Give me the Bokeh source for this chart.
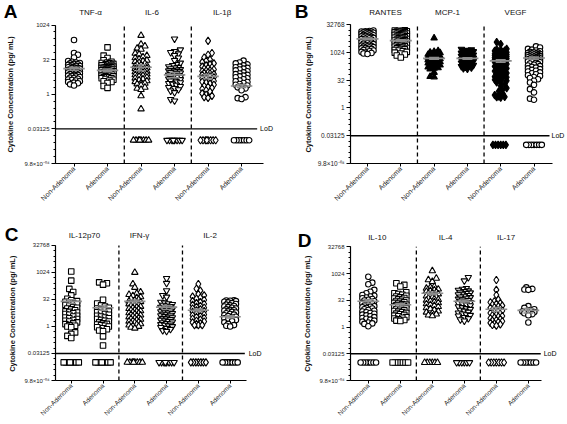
import numpy as np
from math import pi
from bokeh.plotting import figure
from bokeh.layouts import gridplot
from bokeh.models import FixedTicker, Label, Range1d, LogAxis
from bokeh.embed import file_html
from bokeh.resources import INLINE

# ---------------- data (pg/mL) ----------------
groups_x = ["Non-Adenoma", "Adenoma", "Non-Adenoma", "Adenoma", "Non-Adenoma", "Adenoma"]
LOD = 0.03125
BLQ_PLOT = 0.01   # value at which samples below LoD are shown
y_tick_labels = {-10: "9.8\u00d710\u207b\u2070\u2074", -5: "0.03125", 0: "1", 5: "32", 10: "1024", 15: "32768"}
y_title = "Cytokine Concentration (pg/ mL)"

# Panel A
a_titles = ["TNF-\u03b1", "IL-6", "IL-1\u03b2"]
tnf_non = [230, 62, 52, 40, 28, 26, 24, 23, 22, 21, 20, 19, 18, 17, 17, 16, 15, 15, 14, 14, 13, 13, 12, 12, 11.5, 11, 11, 10.5, 10, 10, 9.5, 9, 9, 8.5, 8, 8, 7.5, 7, 7, 6.5, 6.2, 6, 5.6, 5.3, 5, 4.7, 4.4, 4.2, 4, 3.7, 3.4, 3.2, 3, 2.7, 2.4]
tnf_ad = [110, 48, 38, 30, 26, 24, 23, 22, 21, 20, 19, 18, 18, 17, 16, 16, 15, 15, 14, 14, 13, 13, 12.5, 12, 12, 11.5, 11, 11, 10.5, 10, 10, 9.5, 9, 9, 8.5, 8.5, 8, 8, 7.5, 7, 7, 6.5, 6.5, 6, 6, 5.5, 5.5, 5, 5, 4.6, 4.3, 4, 3.7, 3.4, 3.1, 2.3, 1.9]
il6_non = [360, 150, 125, 100, 90, 60, 55, 48, 42, 38, 34, 30, 28, 26, 24, 22, 20, 19, 18, 17, 16, 15, 14, 13, 12, 11, 10, 9.5, 9, 8, 7.5, 7, 6.5, 6, 5.5, 5, 4.6, 4.2, 3.8, 3.5, 3.2, 3, 2.8, 2.5, 2, 1.8, 1.6, 0.85, 0.23]
il6_ad = [256, 86, 73, 66, 58, 49, 38, 30, 23, 20, 18, 16, 15, 14, 13, 12, 11.5, 11, 10.5, 10, 9.5, 9, 8.5, 8, 7.5, 7, 6.8, 6.5, 6, 5.7, 5.4, 5, 4.7, 4.4, 4.1, 3.8, 3.5, 3.2, 3, 2.8, 2.5, 2.2, 2, 1.8, 1.6, 1.4, 1.2, 0.6, 0.52]
il1b_non = [210, 62, 52, 40, 32, 28, 25, 22, 20, 18, 16, 15, 14, 13, 12, 11, 10.5, 10, 9.5, 9, 8.5, 8, 7.5, 7, 6.5, 6, 5.5, 5, 4.6, 4.2, 3.8, 3.5, 3.2, 2.9, 2.6, 2.3, 2.1, 1.9, 1.7, 1.5, 1.3, 1.1, 0.95, 0.85, 0.75, 0.7]
il1b_ad = [29, 24, 22, 20, 18, 16, 15, 14, 13, 12, 11, 10, 9, 8, 7.5, 7, 6.5, 6, 5.5, 5, 4.5, 4, 3.7, 3.4, 3.1, 2.8, 2.6, 2.4, 2.2, 2, 1.8, 1.5, 0.75, 0.68, 0.62]
a_below = [0, 0, 8, 8, 8, 7]
a_means = [13, 11, 15, 7, 6, 2.3]
a_sems = [2, 1.5, 4.5, 1.8, 1.3, 0.35]

# Panel B
b_titles = ["RANTES", "MCP-1", "VEGF"]
rantes_non = [16000, 15000, 14500, 14000, 13500, 13000, 12500, 12000, 11500, 11000, 10500, 10000, 9600, 9200, 8800, 8400, 8000, 7600, 7200, 6900, 6600, 6300, 6000, 5700, 5400, 5100, 4800, 4500, 4300, 4100, 3900, 3700, 3500, 3300, 3100, 2900, 2700, 2500, 2400, 2300, 2200, 2100, 2000, 1900, 1800, 1700, 1600, 1500, 1400, 1300, 1200, 1100, 1000, 950, 900, 850]
rantes_ad = [16500, 16000, 15500, 15000, 14500, 14000, 13500, 13000, 12500, 12000, 11500, 11000, 10500, 10000, 9500, 9000, 8600, 8200, 7800, 7400, 7000, 6700, 6400, 6100, 5800, 5500, 5200, 5000, 4800, 4600, 4400, 4200, 4000, 3800, 3600, 3400, 3200, 3000, 2850, 2700, 2550, 2400, 2250, 2100, 2000, 1900, 1800, 1700, 1600, 1500, 1400, 1300, 1200, 1100, 1000, 900, 800, 700, 550]
mcp1_non = [6200, 1250, 1150, 1050, 980, 920, 860, 800, 760, 720, 680, 640, 610, 580, 550, 520, 500, 480, 460, 440, 420, 400, 380, 360, 340, 320, 300, 285, 270, 255, 240, 225, 210, 195, 180, 165, 150, 140, 128, 84, 50, 48]
mcp1_ad = [1550, 1450, 1350, 1250, 1150, 1080, 1020, 960, 900, 850, 800, 760, 720, 680, 640, 600, 570, 540, 510, 480, 450, 425, 400, 380, 360, 340, 320, 300, 280, 260, 240, 225, 210, 195, 180, 165, 150, 140, 130]
vegf_non = [3700, 2900, 1600, 1500, 1400, 1300, 1250, 1150, 1100, 1050, 1000, 950, 900, 870, 850, 820, 800, 770, 750, 720, 700, 680, 650, 620, 600, 580, 560, 540, 520, 500, 480, 460, 450, 430, 420, 400, 390, 370, 360, 340, 320, 300, 280, 260, 240, 225, 210, 195, 180, 165, 150, 140, 130, 120, 110, 100, 92, 85, 78, 72, 66, 60, 55, 50, 46, 42, 38, 34, 30, 27, 24, 20, 16, 12, 10, 8, 6, 5, 4.2, 4, 3.8, 3.6]
vegf_ad = [2200, 1900, 1600, 1450, 1300, 1200, 1100, 1050, 1000, 950, 920, 880, 850, 820, 790, 760, 730, 700, 680, 650, 630, 600, 580, 560, 540, 520, 500, 480, 470, 450, 440, 420, 410, 390, 380, 360, 350, 330, 320, 300, 280, 260, 240, 220, 200, 185, 170, 155, 140, 128, 116, 105, 95, 85, 76, 68, 60, 54, 48, 42, 36, 30, 24, 18, 10.5, 7, 3.2, 2.8]
b_below = [0, 0, 0, 0, 6, 7]
b_means = [5600, 4500, 490, 490, 360, 512]
b_sems = [600, 500, 60, 50, 60, 70]

# Panel C
c_titles = ["IL-12p70", "IFN-\u03b3", "IL-2"]
il12_non = [1170, 360, 125, 84, 54, 35, 29, 26, 24, 22, 20, 18, 16, 14, 12, 11, 10, 9, 8, 7, 6.5, 6, 5.5, 5, 4.5, 4, 3.6, 3.2, 2.9, 2.6, 2.3, 2.1, 1.9, 1.7, 1.5, 1.35, 1.2, 1.1, 1.0, 0.9, 0.47, 0.38, 0.3, 0.23]
il12_ad = [290, 256, 215, 31, 19, 15, 13, 11, 10, 9, 8, 7, 6.3, 5.6, 5, 4.5, 4, 3.6, 3.2, 2.9, 2.6, 2.3, 2.1, 1.9, 1.7, 1.5, 1.4, 1.3, 1.2, 1.1, 1.0, 0.9, 0.8, 0.7, 0.6, 0.54, 0.28, 0.088]
ifng_non = [1024, 235, 150, 84, 70, 60, 52, 45, 40, 36, 32, 29, 26, 24, 22, 20, 18, 16.5, 15, 14, 13, 12, 11, 10, 9.3, 8.6, 8, 7.4, 6.8, 6.3, 5.8, 5.4, 5, 4.6, 4.3, 4, 3.7, 3.4, 3.1, 2.9, 2.7, 2.5, 2.3, 2.1, 1.95, 1.8, 1.65, 1.5, 1.4, 1.3, 1.2, 1.1, 1.0, 0.9, 0.8]
ifng_ad = [480, 256, 100, 54, 44, 23, 21, 19, 17, 15.5, 14, 13, 12, 11, 10, 9.3, 8.6, 8, 7.4, 6.8, 6.3, 5.8, 5.4, 5, 4.6, 4.3, 4, 3.7, 3.4, 3.1, 2.9, 2.7, 2.5, 2.3, 2.1, 1.95, 1.8, 1.65, 1.5, 1.4, 1.3, 1.2, 1.1, 1.0, 0.9, 0.8, 0.7, 0.6, 0.54]
il2_non = [235, 128, 100, 64, 54, 46, 40, 35, 30, 26, 23, 20, 18, 16, 14, 12.5, 11, 10, 9, 8, 7.2, 6.5, 5.8, 5.2, 4.7, 4.2, 3.8, 3.4, 3, 2.7, 2.4, 2.1, 1.9, 1.7, 1.5, 1.35, 1.2, 1.2, 1.2]
il2_ad = [29, 28, 27, 26, 24, 22, 20, 18, 16.5, 15, 14, 13, 12, 11, 10, 9, 8.5, 8, 7.5, 7, 6.5, 6, 5.5, 5, 4.6, 4.2, 3.8, 3.5, 3.2, 2.9, 2.6, 2.3, 2, 1.7, 1.4, 1.2, 1.1, 1.0]
c_below = [8, 8, 8, 8, 7, 7]
c_means = [25, 11, 25, 12, 8, 3.5]
c_sems = [6, 3, 5, 3, 1.5, 0.5]

# Panel D
d_titles = ["IL-10", "IL-4", "IL-17"]
il10_non = [670, 315, 256, 124, 97, 80, 64, 58, 52, 46, 42, 38, 34, 31, 28, 26, 24, 22, 20, 18, 16, 15, 14, 13, 12, 11, 10, 9, 8.2, 7.5, 6.8, 6.2, 5.6, 5, 4.5, 4, 3.6, 3.2, 2.9, 2.6, 2.3, 2, 1.8, 1.6, 1.5, 1.1]
il10_ad = [290, 235, 190, 90, 80, 72, 65, 58, 52, 47, 43, 40, 37, 34, 31, 29, 27, 25, 23, 21, 19.5, 18, 17, 16, 15, 14, 13, 12, 11, 10, 9.3, 8.6, 8, 7.4, 6.8, 6.2, 5.7, 5.2, 4.8, 4.4, 4, 3.6, 3.3, 3, 2.7, 2.5, 2.3, 2.2]
il4_non = [1450, 550, 450, 360, 190, 170, 150, 135, 120, 110, 100, 92, 85, 78, 72, 66, 60, 55, 50, 46, 42, 38, 35, 32, 29, 26, 23, 20, 18, 16, 14, 12, 10.5, 9, 7.8, 6.8, 6, 5.3, 4.7, 4.2]
il4_ad = [620, 400, 150, 135, 120, 110, 100, 92, 85, 78, 72, 66, 60, 55, 50, 46, 42, 38, 35, 32, 29, 26, 24, 22, 20, 18, 16, 14, 12.5, 11, 10, 9, 8, 7, 6.2, 5.5, 5, 4.6, 4.2, 3.5, 3, 2.6, 2.2]
il17_non = [440, 124, 64, 35, 28, 25, 22, 20, 18, 16, 14.5, 13, 12, 11, 10, 9, 8.2, 7.5, 6.8, 6.2, 5.6, 5, 4.6, 4.2, 3.8, 3.4, 3.1, 2.8, 2.5, 2.3, 2.1, 1.9, 1.7, 1.55, 1.4, 1.3, 1.2]
il17_ad = [170, 140, 130, 124, 15, 12, 10, 9, 8, 7.5, 7, 6.5, 6, 5.3, 4.6, 1.8]
d_below = [7, 7, 6, 6, 7, 7]
d_means = [28, 18, 80, 28, 10, 8.6]
d_sems = [6, 3, 15, 5, 2.5, 2.5]

# ---------------- layout helpers ----------------
FONT = "Liberation Sans"
TICKLAB_W = 26     # estimated width of the widest y tick label, px
NBSP_W = 0.278 * 7.5


def swarm(ypix, d, wmax):
    order = np.argsort(ypix, kind="stable")
    step = d / 2.0
    pos = [0.0]
    k = 1
    while k * step <= wmax + 1e-9:
        pos += [k * step, -k * step]
        k += 1
    pos = np.array(pos)
    neg_first = pos.copy()
    neg_first[1::2], neg_first[2::2] = pos[2::2], pos[1::2]
    px, py = [], []
    xs = np.zeros(len(ypix))
    for n, i in enumerate(order):
        y = ypix[i]
        cands = pos if n % 2 == 0 else neg_first
        if px:
            ax = np.array(px)
            ay = np.array(py)
            m = np.abs(ay - y) < d
            nx, ny = ax[m], ay[m]
        else:
            nx, ny = np.array([]), np.array([])
        if len(nx) == 0:
            best = 0.0
        else:
            dist = np.sqrt((cands[:, None] - nx[None, :]) ** 2 + (y - ny[None, :]) ** 2).min(axis=1)
            ok = np.where(dist >= d - 1e-9)[0]
            best = cands[ok[0]] if len(ok) else cands[int(np.argmax(dist))]
        xs[i] = best
        px.append(best)
        py.append(y)
    return xs


def make_panel(letter, titles, series, below, means, sems, markers, fills, ytop_exp, g):
    w, h = g["w"], g["h"]
    fl, ty = int(g["left"]), g["top"]
    bb = int(round(h - g["bottom"]))
    by = h - bb
    c1, sp = g["cat1"], g["sp"]
    ppd = (by - ty) / (ytop_exp + 10)

    def X(px):
        return 1 + (px - c1) / sp

    def Y(py):
        return 2.0 ** (ytop_exp + (ty - py) / ppd)

    ymin, ymax = 2.0 ** -10, 2.0 ** ytop_exp
    p = figure(width=w, height=h, output_backend="svg", toolbar_location=None,
               y_axis_type="log", x_range=Range1d(X(fl), X(w)), y_range=Range1d(ymin, Y(0)),
               min_border_left=fl, min_border_right=0, min_border_top=0,
               min_border_bottom=bb)
    p.outline_line_color = None
    p.xgrid.visible = False
    p.ygrid.visible = False
    p.background_fill_color = "white"
    p.border_fill_color = "white"

    # y axis
    ya = p.yaxis[0]
    ya.bounds = (ymin, ymax)
    exps = list(range(-10, ytop_exp + 1, 5))
    ya.ticker = FixedTicker(ticks=[2.0 ** e for e in exps],
                            minor_ticks=[2.0 ** e for e in range(-10, ytop_exp + 1)])
    ya.major_label_overrides = {2.0 ** e: y_tick_labels[e] for e in exps}
    ya.major_label_text_font = FONT
    ya.major_label_text_font_size = g["yfont"]
    ya.major_label_text_color = "#222222"
    ya.major_label_standoff = 2
    ya.major_tick_out = 4
    ya.major_tick_in = 0
    ya.minor_tick_out = 2
    ya.minor_tick_in = 0
    ya.axis_line_width = 1.2
    # the label is centred on the whole frame; trailing no-break spaces move it
    # to the centre of the drawn axis
    ya.axis_label = y_title + "\u00a0" * int(round(ty / NBSP_W))
    ya.axis_label_text_font = FONT
    ya.axis_label_text_font_size = "7.5px"
    ya.axis_label_text_font_style = "bold"
    ya.axis_label_text_color = "#111111"
    s = int(round(fl - 6 - TICKLAB_W - (g["ytitle"] + 4.5)))
    ya.axis_label_standoff = s
    prim = 6 + TICKLAB_W + s + 9

    # panel letter as the tick label of an outer, line-less axis
    ly = Y(g["letter_cy"])
    la = LogAxis(ticker=FixedTicker(ticks=[ly]), major_label_overrides={ly: letter},
                 axis_line_color=None, major_tick_line_color=None, minor_tick_line_color=None,
                 major_tick_out=0, major_tick_in=0, minor_tick_out=0, minor_tick_in=0,
                 major_label_standoff=int(round((fl - prim) - g["letter_right"])),
                 major_label_text_font=FONT, major_label_text_font_size="19px",
                 major_label_text_font_style="bold", major_label_text_color="black")
    p.add_layout(la, "left")

    # x axis
    xa = p.xaxis[0]
    xa.bounds = (X(fl), X(g["axis_end"]))
    xa.ticker = FixedTicker(ticks=[1, 2, 3, 4, 5, 6])
    xa.major_label_overrides = {i + 1: t for i, t in enumerate(groups_x)}
    xa.major_label_orientation = pi / 4
    xa.major_label_text_font = FONT
    xa.major_label_text_font_size = g["xfont"]
    xa.major_label_text_color = "#222222"
    xa.major_label_standoff = 1
    xa.major_tick_out = 3
    xa.major_tick_in = 0
    xa.minor_tick_line_color = None
    xa.axis_line_width = 1.2

    # dividers and LoD line
    p.segment([2.5, 4.5], [ymin, ymin], [2.5, 4.5], [ymax, ymax], line_color="black",
              line_width=1.3, line_dash="4 3")
    p.segment([X(fl)], [LOD], [X(g["lod_end"])], [LOD], line_color="black", line_width=1.4)

    # points
    sizes = {"circle": 5.5, "square": 5.5, "triangle": 6.5, "inverted_triangle": 6.5, "diamond": 7.5}
    for gi, vals in enumerate(series):
        v = np.array(vals, dtype=float)
        off = swarm(np.log2(v) * ppd, 4.0, 7.0)
        xs_all = list((gi + 1) + off / sp)
        ys_all = list(v)
        if below[gi]:
            bl = np.full(below[gi], BLQ_PLOT)
            offb = swarm(np.log2(bl) * ppd, 2.6, 8.0)
            xs_all += list((gi + 1) + offb / sp)
            ys_all += list(bl)
        p.scatter(xs_all, ys_all, marker=markers[gi], size=sizes[markers[gi]],
                  fill_color=fills[gi], line_color="black", line_width=1.1)

    # mean +/- SEM
    cx = np.arange(1, 7, dtype=float)
    mn = np.array(means, dtype=float)
    se = np.array(sems, dtype=float)
    hw, cw = 11.0 / sp, 5.0 / sp
    col = "#8c8c8c"
    p.segment(cx - hw, mn, cx + hw, mn, line_color=col, line_width=1.6)
    p.segment(cx, mn - se, cx, mn + se, line_color=col, line_width=1.4)
    p.segment(cx - cw, mn + se, cx + cw, mn + se, line_color=col, line_width=1.4)
    p.segment(cx - cw, mn - se, cx + cw, mn - se, line_color=col, line_width=1.4)

    # group titles and LoD text (inside the frame)
    for t, tx in zip(titles, g["title_x"]):
        p.add_layout(Label(x=X(tx), y=Y(g["title_y"]), text=t, text_font=FONT,
                           text_font_size="8px", text_align="center", text_baseline="middle",
                           text_color="#111111"))
    p.add_layout(Label(x=X(g["lod_text"]), y=LOD, text="LoD", text_font=FONT,
                       text_font_size="7px", text_align="left", text_baseline="middle",
                       text_color="black"))
    return p


geo_a = dict(w=282, h=211, left=49, top=24.7, bottom=164, cat1=68, sp=34.4, axis_end=262,
             lod_end=256, lod_text=259, title_x=[85, 148, 220], title_y=12, letter_right=16,
             letter_cy=10, ytitle=6, xfont="7px", yfont="6px")
geo_b = dict(w=284, h=211, left=68, top=24.2, bottom=163.3, cat1=85, sp=33.3, axis_end=270,
             lod_end=267, lod_text=269, title_x=[103, 165, 233], title_y=12, letter_right=33,
             letter_cy=11, ytitle=30, xfont="7px", yfont="6.5px")
geo_c = dict(w=282, h=212, left=47, top=34.8, bottom=173.3, cat1=63.3, sp=32.9, axis_end=245,
             lod_end=243, lod_text=247, title_x=[77, 134, 207], title_y=25, letter_right=15,
             letter_cy=24, ytitle=7, xfont="6.5px", yfont="6px")
geo_d = dict(w=284, h=212, left=66, top=35.3, bottom=169.3, cat1=84, sp=32.3, axis_end=259,
             lod_end=258, lod_text=261, title_x=[93, 162, 223], title_y=26, letter_right=32,
             letter_cy=29, ytitle=25, xfont="6.5px", yfont="6px")

mk = ["circle", "square", "triangle", "inverted_triangle", "diamond", "circle"]
pa = make_panel("A", a_titles, [tnf_non, tnf_ad, il6_non, il6_ad, il1b_non, il1b_ad],
                a_below, a_means, a_sems, mk, ["white"] * 6, 10, geo_a)
pb = make_panel("B", b_titles, [rantes_non, rantes_ad, mcp1_non, mcp1_ad, vegf_non, vegf_ad],
                b_below, b_means, b_sems, mk,
                ["white", "white", "black", "black", "black", "white"], 15, geo_b)
pc = make_panel("C", c_titles, [il12_non, il12_ad, ifng_non, ifng_ad, il2_non, il2_ad],
                c_below, c_means, c_sems,
                ["square", "square", "triangle", "inverted_triangle", "diamond", "circle"],
                ["white"] * 6, 15, geo_c)
pd = make_panel("D", d_titles, [il10_non, il10_ad, il4_non, il4_ad, il17_non, il17_ad],
                d_below, d_means, d_sems, mk, ["white"] * 6, 15, geo_d)

grid = gridplot([[pa, pb], [pc, pd]], toolbar_location=None)
open("out.html", "w").write(file_html(grid, INLINE))
